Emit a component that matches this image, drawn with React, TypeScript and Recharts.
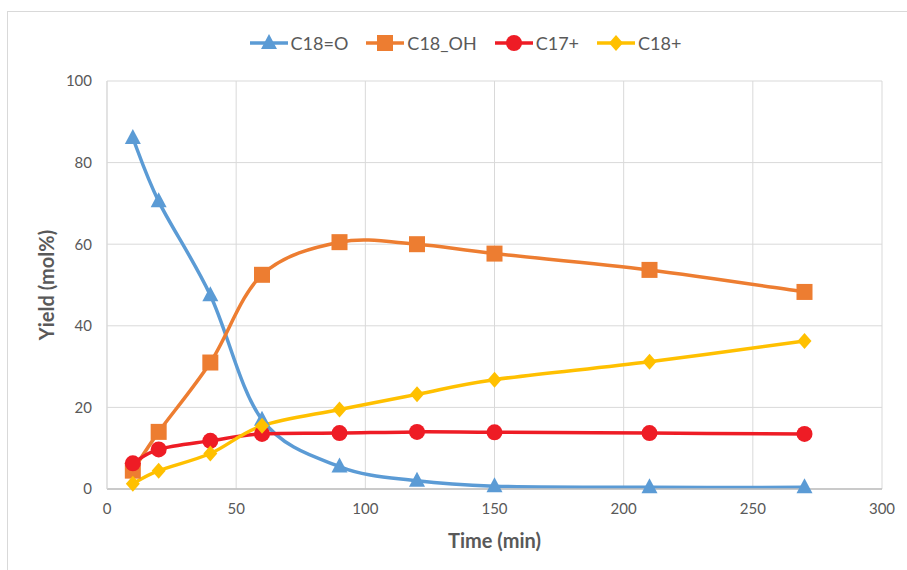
import { LineChart, Line, XAxis, YAxis, CartesianGrid, Legend } from 'recharts'

const times = [10, 20, 40, 60, 90, 120, 150, 210, 270]
const c18O = [86, 70.5, 47.5, 17, 5.5, 2, 0.7, 0.4, 0.4]
const c18OH = [4.5, 14, 31, 52.5, 60.5, 60, 57.7, 53.7, 48.3]
const c17Plus = [6.3, 9.7, 11.8, 13.5, 13.7, 14, 13.9, 13.7, 13.5]
const c18Plus = [1.3, 4.5, 8.7, 15.5, 19.5, 23.2, 26.8, 31.2, 36.3]

const xTicks = [0, 50, 100, 150, 200, 250, 300]
const yTicks = [0, 20, 40, 60, 80, 100]

const FONT = 'Lato, "Open Sans", sans-serif'
const GREY = '#595959'

const series = [
  { key: 'c18O', name: 'C18=O', color: '#5B9BD5', shape: 'triangle' },
  { key: 'c18OH', name: 'C18_OH', color: '#ED7D31', shape: 'square' },
  { key: 'c17Plus', name: 'C17+', color: '#EE1C25', shape: 'circle' },
  { key: 'c18Plus', name: 'C18+', color: '#FFC000', shape: 'diamond' },
]

const data = times.map((t, i) => ({
  time: t,
  c18O: c18O[i],
  c18OH: c18OH[i],
  c17Plus: c17Plus[i],
  c18Plus: c18Plus[i],
}))

// Excel-style smoothed line (Catmull-Rom through the points)
function excelCurve(context: any) {
  let pts: number[][] = []
  return {
    areaStart() {},
    areaEnd() {},
    lineStart() {
      pts = []
    },
    point(x: number, y: number) {
      pts.push([+x, +y])
    },
    lineEnd() {
      if (!pts.length) return
      context.moveTo(pts[0][0], pts[0][1])
      for (let i = 1; i < pts.length; i++) {
        const p0 = pts[i - 2] || pts[i - 1]
        const p1 = pts[i - 1]
        const p2 = pts[i]
        const p3 = pts[i + 1] || pts[i]
        context.bezierCurveTo(
          p1[0] + (p2[0] - p0[0]) / 6,
          p1[1] + (p2[1] - p0[1]) / 6,
          p2[0] - (p3[0] - p1[0]) / 6,
          p2[1] - (p3[1] - p1[1]) / 6,
          p2[0],
          p2[1]
        )
      }
    },
  }
}

function Marker({ cx, cy, shape, color }: { cx: number; cy: number; shape: string; color: string }) {
  if (cx == null || cy == null) return null
  if (shape === 'triangle') {
    return <polygon points={`${cx},${cy - 9} ${cx + 8},${cy + 6} ${cx - 8},${cy + 6}`} fill={color} />
  }
  if (shape === 'square') {
    return <rect x={cx - 8} y={cy - 8} width={16} height={16} fill={color} />
  }
  if (shape === 'diamond') {
    return <polygon points={`${cx},${cy - 8} ${cx + 7},${cy} ${cx},${cy + 8} ${cx - 7},${cy}`} fill={color} />
  }
  return <circle cx={cx} cy={cy} r={8} fill={color} />
}

function LegendContent() {
  return (
    <div style={{ display: 'flex', justifyContent: 'center', gap: 18, fontFamily: FONT, fontSize: 18, color: GREY }}>
      {series.map((s) => (
        <div key={s.key} style={{ display: 'flex', alignItems: 'center', gap: 3 }}>
          <svg width={38} height={18}>
            <line x1={0} y1={9} x2={38} y2={9} stroke={s.color} strokeWidth={3.5} />
            <Marker cx={19} cy={9} shape={s.shape} color={s.color} />
          </svg>
          <span>{s.name}</span>
        </div>
      ))}
    </div>
  )
}

export default function App() {
  return (
    <div style={{ position: 'absolute', left: 0, top: 0, width: 907, height: 570, background: '#fff' }}>
      <div
        style={{
          position: 'absolute',
          left: 7,
          top: 11,
          width: 900,
          height: 570,
          borderLeft: '1.5px solid #d9d9d9',
          borderTop: '1.5px solid #d9d9d9',
        }}
      />
      <LineChart
        width={907}
        height={570}
        data={data}
        margin={{ top: 81, right: 25, bottom: 0, left: 47 }}
        style={{ position: 'absolute', left: 0, top: 0 }}
      >
        <CartesianGrid stroke="#d9d9d9" strokeWidth={1} />
        <XAxis
          dataKey="time"
          type="number"
          domain={[0, 300]}
          ticks={xTicks}
          height={81}
          tickLine={false}
          axisLine={{ stroke: '#bfbfbf', strokeWidth: 1.5 }}
          tick={{ fontSize: 15, fill: GREY, fontFamily: FONT }}
          tickMargin={8}
          label={{
            value: 'Time (min)',
            position: 'insideBottom',
            offset: 22,
            style: { fontSize: 20, fontWeight: 700, fill: GREY, fontFamily: FONT },
          }}
        />
        <YAxis
          type="number"
          domain={[0, 100]}
          ticks={yTicks}
          width={60}
          tickLine={false}
          axisLine={{ stroke: '#d9d9d9', strokeWidth: 1 }}
          tick={{ fontSize: 15, fill: GREY, fontFamily: FONT }}
          tickMargin={9}
          label={{
            value: 'Yield (mol%)',
            angle: -90,
            position: 'insideLeft',
            offset: 0,
            style: { fontSize: 20, fontWeight: 700, fill: GREY, fontFamily: FONT, textAnchor: 'middle' },
          }}
        />
        <Legend
          verticalAlign="top"
          content={<LegendContent />}
          wrapperStyle={{ top: 32, left: 12, width: 907, height: 0, overflow: 'visible' }}
        />
        {series.map((s) => (
          <Line
            key={s.key}
            dataKey={s.key}
            name={s.name}
            type={excelCurve as any}
            stroke={s.color}
            strokeWidth={3.5}
            dot={(p: any) => <Marker key={`${s.key}-${p.index}`} cx={p.cx} cy={p.cy} shape={s.shape} color={s.color} />}
            activeDot={false}
            isAnimationActive={false}
          />
        ))}
      </LineChart>
    </div>
  )
}
